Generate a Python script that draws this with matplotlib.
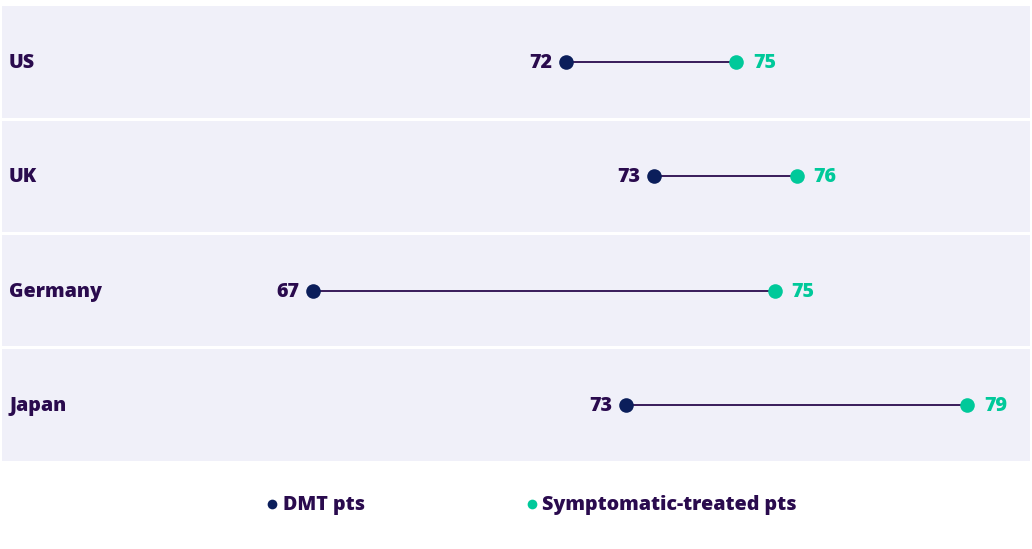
import matplotlib
matplotlib.use("Agg")
import matplotlib.pyplot as plt
from matplotlib.lines import Line2D

countries = ["US", "UK", "Germany", "Japan"]
dmt = [71.6, 73.2, 67.0, 72.7]
sym = [74.7, 75.8, 75.4, 78.9]
dmt_labels = ["72", "73", "67", "73"]
sym_labels = ["75", "76", "75", "79"]
series_names = ["DMT pts", "Symptomatic-treated pts"]

NAVY = "#0B1E5B"
TEAL = "#00C99A"
TEXT = "#2A0B4E"
BAND = "#F0F0F9"
FONT = ["Open Sans", "DejaVu Sans"]
FS = 14.1
WT = 800

W, H = 1032, 549
fig = plt.figure(figsize=(W / 100, H / 100), dpi=100)
fig.patch.set_facecolor("white")
ax = fig.add_axes([2 / W, 1 - 462 / H, 1028 / W, 457 / H])
ax.set_facecolor("white")
for s in ax.spines.values():
    s.set_visible(False)
ax.set_xticks([])
ax.set_yticks([])
ax.set_xlim(61.35, 80.04)
ax.set_ylim(len(countries) - 0.5, -0.5)

for i, c in enumerate(countries):
    ax.axhspan(i - 0.487, i + 0.487, color=BAND, zorder=0, lw=0)
    ax.plot([dmt[i], sym[i]], [i, i], color=TEXT, lw=1.3, zorder=2)
    ax.plot(dmt[i], i, "o", color=NAVY, ms=10.5, zorder=3, mec="none")
    ax.plot(sym[i], i, "o", color=TEAL, ms=10.5, zorder=3, mec="none")
    ax.annotate(dmt_labels[i], (dmt[i], i), xytext=(-10, -0.7), textcoords="offset points",
                ha="right", va="center", fontsize=FS, fontweight=WT, color=TEXT, family=FONT)
    ax.annotate(sym_labels[i], (sym[i], i), xytext=(12, -0.7), textcoords="offset points",
                ha="left", va="center", fontsize=FS, fontweight=WT, color=TEAL, family=FONT)
    ax.annotate(c, (0, i), xycoords=("axes fraction", "data"), xytext=(7, -1),
                textcoords="offset pixels", ha="left", va="center", fontsize=FS,
                fontweight=WT, color=TEXT, family=FONT)

# legend
ly = 1 - 504 / H
for (mx, tx, name, col) in [(272, 283, series_names[0], NAVY), (532, 542, series_names[1], TEAL)]:
    fig.add_artist(Line2D([mx / W], [ly], marker="o", color=col, ms=7, mec="none",
                          transform=fig.transFigure))
    fig.text(tx / W, ly - 1 / H, name, ha="left", va="center", fontsize=FS, fontweight=WT,
             color=TEXT, family=FONT)

fig.savefig("out.png", dpi=100, facecolor="white")
